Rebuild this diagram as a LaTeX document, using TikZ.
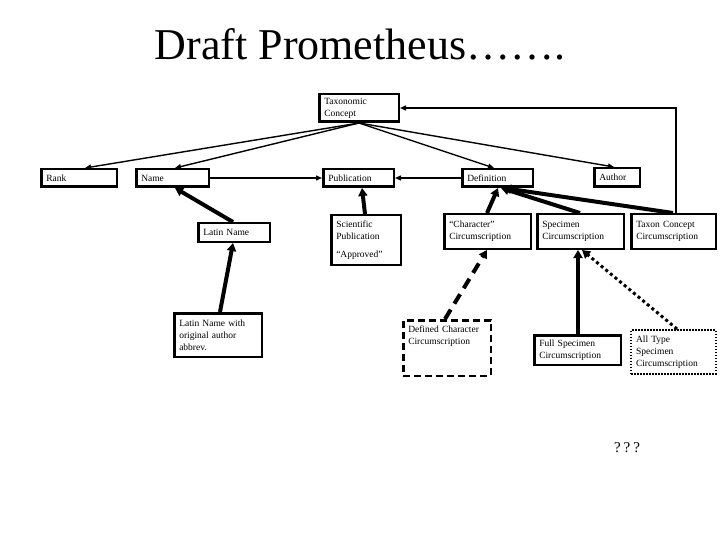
\documentclass[tikz,border=0pt]{standalone}
\usepackage{fontspec}
\setmainfont{Liberation Serif}
\usetikzlibrary{arrows.meta,calc}
\begin{document}
\begin{tikzpicture}[x=1pt,y=-1pt,
  bx/.style={draw, line width=2.5pt, rectangle, anchor=north west, inner xsep=5pt, inner ysep=1pt,
    align=left, font=\fontsize{9.5}{12}\selectfont},
  thinarr/.style={line width=1.4pt, -{Triangle[length=6pt,width=5pt]}},
  thickarr/.style={line width=4pt, -{Triangle[length=8pt,width=9pt]}},
  dasharr/.style={thickarr, dash pattern=on 11pt off 7pt},
  dotarr/.style={line width=3pt, dash pattern=on 3pt off 3pt, -{Triangle[length=8pt,width=9pt]}},
]
\useasboundingbox (0,0) rectangle (720,540);

\node[anchor=base, font=\fontsize{44}{50}\selectfont] (title) at (360,60) {Draft Prometheus…….};

\node[bx, minimum width=79.5pt, minimum height=27.5pt, text width=69.5pt] (tc) at (318,93) {Taxonomic\\Concept};

\node[bx, minimum width=75.5pt, minimum height=17.5pt, text width=65.5pt] (rank) at (40,168) {Rank};
\node[bx, minimum width=72.5pt, minimum height=17.5pt, text width=62.5pt] (name) at (135,168) {Name};
\node[bx, minimum width=70.5pt, minimum height=17.5pt, text width=60.5pt] (pub) at (322,168) {Publication};
\node[bx, minimum width=70.5pt, minimum height=17.5pt, text width=60.5pt] (def) at (461,168) {Definition};
\node[bx, minimum width=45.5pt, minimum height=18.5pt, text width=35.5pt] (author) at (593,167) {Author};

\node[bx, minimum width=71.5pt, minimum height=18.5pt, text width=61.5pt] (latin) at (197,222) {Latin Name};
\node[bx, minimum width=69.5pt, minimum height=49.5pt, text width=59.5pt] (sci) at (330,214) {Scientific\\Publication\\[6pt]“Approved”};
\node[bx, minimum width=86.5pt, minimum height=34.5pt, text width=76.5pt] (char) at (443,213) {“Character”\\Circumscription};
\node[bx, minimum width=86.5pt, minimum height=34.5pt, text width=76.5pt] (spec) at (536,213) {Specimen\\Circumscription};
\node[bx, minimum width=84.5pt, minimum height=34.5pt, text width=74.5pt] (taxc) at (630,213) {Taxon Concept\\Circumscription};

\node[bx, minimum width=87.5pt, minimum height=43.5pt, text width=77.5pt] (latinw) at (173,312) {Latin Name with\\original author\\abbrev.};
\node[bx, inner ysep=5pt, dash pattern=on 7pt off 4pt, minimum width=87.5pt, minimum height=55.5pt, text width=77.5pt] (defc) at (402,319) {Defined Character\\Circumscription\\[14pt]\mbox{}};
\node[bx, minimum width=86.5pt, minimum height=29.5pt, text width=76.5pt] (full) at (533,334) {Full Specimen\\Circumscription};
\node[bx, line width=2pt, dash pattern=on 1.5pt off 1.5pt, minimum width=84.5pt, minimum height=43.5pt, text width=74.5pt] (alltype) at (630,329) {All Type\\Specimen\\Circumscription};

\node[font=\fontsize{15}{18}\selectfont] (qqq) at (627,448) {?\kern3pt?\kern3pt?};

% top fan
\draw[thinarr] (tc.south) -- ([xshift=45pt]rank.north west);
\draw[thinarr] (tc.south) -- ([xshift=40pt]name.north west);
\draw[thinarr] (tc.south) -- ([xshift=33pt]def.north west);
\draw[thinarr] (tc.south) -- ([xshift=21pt]author.north west);

% feedback from Taxon Concept Circumscription
\draw[thinarr] ([xshift=46pt]taxc.north west) |- (tc.east);

% horizontal to Publication
\draw[thinarr] (name.east) -- (pub.west);
\draw[thinarr] (def.west) -- (pub.east);

% thick arrows
\draw[thickarr] ([xshift=36pt]latin.north west) -- ([xshift=40pt]name.south west);
\draw[thickarr] ([xshift=47pt]latinw.north west) -- ([xshift=36pt]latin.south west);
\draw[thickarr] ([xshift=35pt]sci.north west) -- ([xshift=40pt]pub.south west);
\draw[thickarr] ([xshift=44pt]char.north west) -- ([xshift=37pt]def.south west);
\draw[thickarr] ([xshift=44pt]spec.north west) -- ([xshift=40pt]def.south west);
\draw[thickarr] ([xshift=43pt]taxc.north west) -- ([xshift=42pt]def.south west);

\draw[dasharr] ([xshift=43pt]defc.north west) -- ([xshift=44pt]char.south west);
\draw[thickarr] ([xshift=45pt]full.north west) -- ([xshift=42pt]spec.south west);
\draw[dotarr] ([xshift=47pt]alltype.north west) -- ([xshift=46pt]spec.south west);
\end{tikzpicture}
\end{document}
